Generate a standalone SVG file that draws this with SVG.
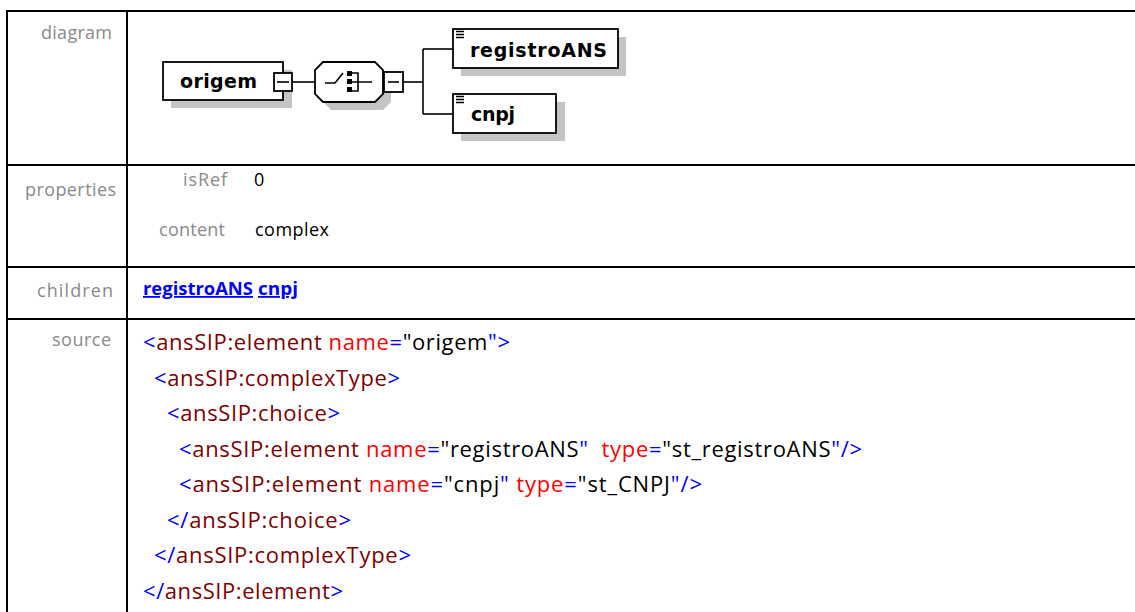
<svg xmlns="http://www.w3.org/2000/svg" width="1135" height="612" viewBox="0 0 1135 612">
<style>
.grid{stroke:#000;stroke-width:2;fill:none}
.lbl{font-family:"Open Sans","Liberation Sans",sans-serif;font-size:18px;fill:#8a8a8a}
.val{font-family:"Open Sans","Liberation Sans",sans-serif;font-size:18px;fill:#000}
.lnk{font-family:"Open Sans","Liberation Sans",sans-serif;font-size:18px;font-weight:bold;fill:#0000ff;text-decoration:underline}
.src{font-family:"Open Sans","Liberation Sans",sans-serif;font-size:22px;white-space:pre}
.b{fill:#0000ff}.e{fill:#800000}.a{fill:#ff0000}.v{fill:#000}
.box{fill:#fff;stroke:#000;stroke-width:1.8}
.shadow{fill:#c4c4c4}
.name{font-family:"DejaVu Sans",Verdana,sans-serif;font-weight:bold;font-size:19px;fill:#000}
.conn{stroke:#000;stroke-width:1.6;fill:none}
.pm{stroke:#000;stroke-width:1.6}
</style>
<rect width="1135" height="612" fill="#fff"/>
<g id="table">
<line class="grid" x1="7" y1="11" x2="1135" y2="11"/>
<line class="grid" x1="7" y1="165" x2="1135" y2="165"/>
<line class="grid" x1="7" y1="267" x2="1135" y2="267"/>
<line class="grid" x1="7" y1="319" x2="1135" y2="319"/>
<line class="grid" x1="7" y1="10" x2="7" y2="612"/>
<line class="grid" x1="127" y1="10" x2="127" y2="612"/>
</g>
<text class="lbl" x="41" y="39" textLength="71" lengthAdjust="spacing">diagram</text>
<text class="lbl" x="25" y="196" textLength="91" lengthAdjust="spacing">properties</text>
<text class="lbl" x="183" y="186" textLength="44" lengthAdjust="spacing">isRef</text>
<text class="val" x="254" y="186">0</text>
<text class="lbl" x="159" y="236" textLength="66" lengthAdjust="spacing">content</text>
<text class="val" x="255" y="236" textLength="74" lengthAdjust="spacing">complex</text>
<text class="lbl" x="37" y="297" textLength="76" lengthAdjust="spacing">children</text>
<text class="lnk" x="143" y="295" textLength="110" lengthAdjust="spacingAndGlyphs">registroANS</text>
<text class="lnk" x="258" y="295" textLength="40" lengthAdjust="spacingAndGlyphs">cnpj</text>
<text class="lbl" x="52" y="346" textLength="59" lengthAdjust="spacing">source</text>
<text class="src" x="143" y="350" textLength="367" lengthAdjust="spacing"><tspan class="b">&lt;</tspan><tspan class="e">ansSIP:element</tspan><tspan class="v"> </tspan><tspan class="a">name</tspan><tspan class="b">=</tspan><tspan class="v">"origem</tspan><tspan class="b">"&gt;</tspan></text>
<text class="src" x="154" y="386" textLength="246" lengthAdjust="spacing"><tspan class="b">&lt;</tspan><tspan class="e">ansSIP:complexType</tspan><tspan class="b">&gt;</tspan></text>
<text class="src" x="167" y="421" textLength="173" lengthAdjust="spacing"><tspan class="b">&lt;</tspan><tspan class="e">ansSIP:choice</tspan><tspan class="b">&gt;</tspan></text>
<text class="src" x="179" y="457" textLength="683" lengthAdjust="spacing"><tspan class="b">&lt;</tspan><tspan class="e">ansSIP:element</tspan><tspan class="v"> </tspan><tspan class="a">name</tspan><tspan class="b">=</tspan><tspan class="v">"registroANS</tspan><tspan class="b">"</tspan><tspan class="v">  </tspan><tspan class="a">type</tspan><tspan class="b">=</tspan><tspan class="v">"st_registroANS</tspan><tspan class="b">"/&gt;</tspan></text>
<text class="src" x="179" y="492" textLength="523" lengthAdjust="spacing"><tspan class="b">&lt;</tspan><tspan class="e">ansSIP:element</tspan><tspan class="v"> </tspan><tspan class="a">name</tspan><tspan class="b">=</tspan><tspan class="v">"cnpj</tspan><tspan class="b">"</tspan><tspan class="v"> </tspan><tspan class="a">type</tspan><tspan class="b">=</tspan><tspan class="v">"st_CNPJ</tspan><tspan class="b">"/&gt;</tspan></text>
<text class="src" x="167" y="528" textLength="184" lengthAdjust="spacing"><tspan class="b">&lt;/</tspan><tspan class="e">ansSIP:choice</tspan><tspan class="b">&gt;</tspan></text>
<text class="src" x="154" y="563" textLength="257" lengthAdjust="spacing"><tspan class="b">&lt;/</tspan><tspan class="e">ansSIP:complexType</tspan><tspan class="b">&gt;</tspan></text>
<text class="src" x="143" y="599" textLength="200" lengthAdjust="spacing"><tspan class="b">&lt;/</tspan><tspan class="e">ansSIP:element</tspan><tspan class="b">&gt;</tspan></text>
<g id="connectors">
<line class="conn" x1="293" y1="82" x2="315" y2="82"/>
<line class="conn" x1="403" y1="82" x2="423" y2="82"/>
<line class="conn" x1="423" y1="49" x2="423" y2="114"/>
<line class="conn" x1="423" y1="49" x2="453" y2="49"/>
<line class="conn" x1="423" y1="114" x2="453" y2="114"/>
</g>
<g id="node-origem">
<rect class="shadow" x="171" y="70" width="121" height="38"/>
<rect class="box" x="163" y="62" width="120" height="38"/>
<text class="name" x="180" y="88" textLength="77" lengthAdjust="spacing">origem</text>
<rect class="box" x="274" y="73" width="18" height="18"/>
<line class="pm" x1="277" y1="82" x2="289" y2="82"/>
</g>
<g id="node-choice">
<polygon class="shadow" points="331,70 383,70 391,78 391,102 383,110 331,110 323,102 323,78"/>
<polygon class="box" points="323,62 375,62 383,70 383,94 375,102 323,102 315,94 315,70"/>
<path class="conn" d="M325 83 H335 L343 73 M352 73 H358 V91 H352 M352 82 H372"/>
<rect x="347" y="71" width="5" height="5" fill="#000"/>
<rect x="347" y="79" width="5" height="5" fill="#000"/>
<rect x="347" y="87" width="5" height="5" fill="#000"/>
<rect class="box" x="384" y="72" width="19" height="20"/>
<line class="pm" x1="388" y1="82" x2="399" y2="82"/>
</g>
<g id="node-registroANS">
<rect class="shadow" x="461" y="37" width="165" height="39"/>
<rect class="box" x="453" y="29" width="165" height="39"/>
<path class="conn" d="M456 31.5 H464 M456 34.5 H464 M456 37.5 H464"/>
<text class="name" x="470" y="57" textLength="137" lengthAdjust="spacing">registroANS</text>
</g>
<g id="node-cnpj">
<rect class="shadow" x="461" y="102" width="104" height="39"/>
<rect class="box" x="453" y="94" width="103" height="39"/>
<path class="conn" d="M456 96.5 H464 M456 99.5 H464 M456 102.5 H464"/>
<text class="name" x="471" y="121" textLength="44" lengthAdjust="spacing">cnpj</text>
</g>
</svg>
